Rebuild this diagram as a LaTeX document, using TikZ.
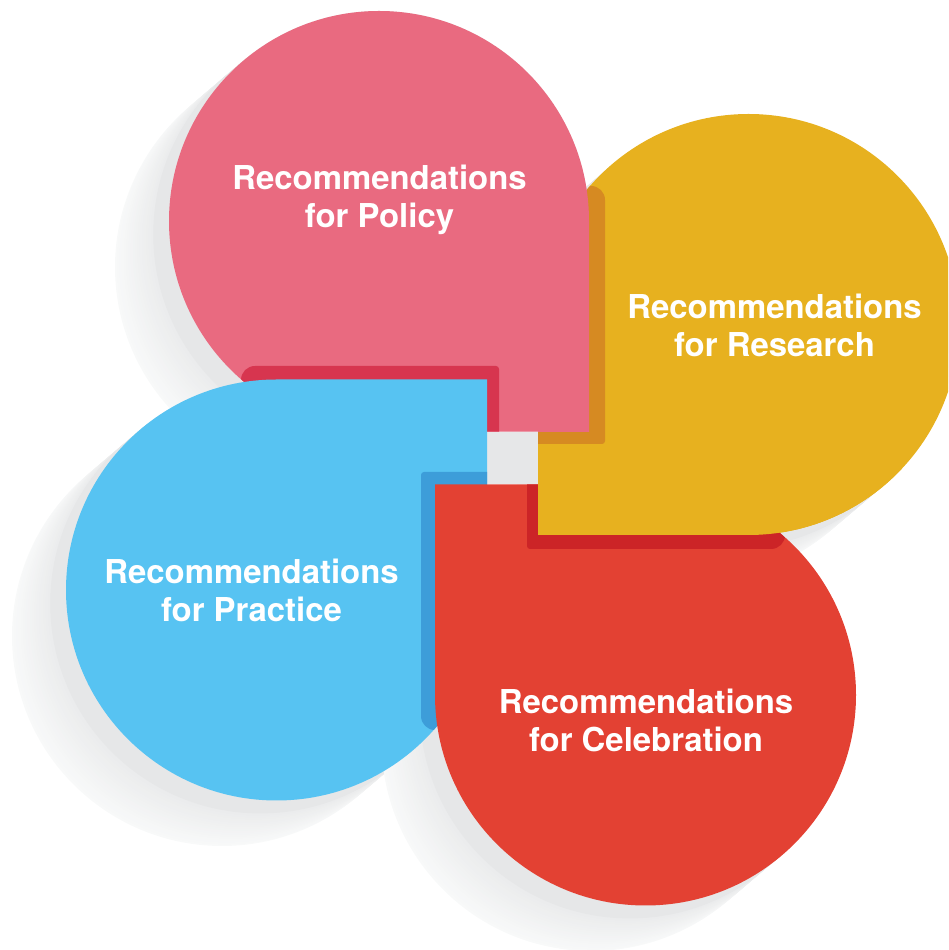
\documentclass[tikz,border=0pt]{standalone}
\usepackage{fontspec}
\setmainfont{TeX Gyre Heros}
\definecolor{pinkc}{HTML}{E96A80}
\definecolor{pinkd}{HTML}{D7354F}
\definecolor{yelc}{HTML}{E7B11F}
\definecolor{yeld}{HTML}{D68A22}
\definecolor{bluec}{HTML}{57C3F2}
\definecolor{blued}{HTML}{3D9DD9}
\definecolor{redc}{HTML}{E34133}
\definecolor{redd}{HTML}{CC2427}
\definecolor{shnear}{HTML}{E6E7E8}
\definecolor{shfar}{HTML}{F8F9F9}
\tikzset{
  lab/.style={text=white,font=\bfseries\fontsize{32.9}{38}\selectfont,align=center,inner sep=0pt},
}
\def\pinkpath{(589,729) arc (0:270:210) -- (589,518) -- cycle}
\def\yelpath{(538,625.5) arc (180:-90:210.5) -- (538,415) -- cycle}
\def\bluepath{(276.5,570.5) arc (90:360:210.5) -- (487,570.5) -- cycle}
\def\redpath{(435,255) arc (180:450:210.5) -- (435,465.5) -- cycle}
\newcommand{\softshadow}[2]{%
  \foreach \k in {0,...,24}{
    \pgfmathsetmacro{\tt}{1-\k/24}
    \pgfmathsetmacro{\mixp}{\tt<0.3 ? 0 : 25+75*(\tt-0.3)/0.7}
    \fill[shfar!\mixp!shnear] ({#1-54*\tt},{#2-46*\tt}) circle[radius=210];
  }}
\begin{document}
\begin{tikzpicture}[x=1pt,y=1pt]
\useasboundingbox (0,0) rectangle (948,950);
\begin{scope}
\clip (0,0) rectangle (948,950);
% shadows
\softshadow{379}{729}
\softshadow{748}{625}
\softshadow{276}{360}
\softshadow{645.5}{255}
% centre square
\fill[shnear] (487,466) rectangle (538,518);
% yellow
\fill[yelc] \yelpath;
\begin{scope}
\clip \yelpath;
\fill[yeld] (500,506) [rounded corners=3pt] -- (605,506) [rounded corners=14pt] -- (605,764) [sharp corners] -- (500,764) -- cycle;
\end{scope}
% pink
\fill[pinkc] \pinkpath;
\begin{scope}
\clip \pinkpath;
\fill[pinkd] (200,518) -- (499,518) [rounded corners=3pt] -- (499,584) [rounded corners=14pt] -- (241,584) [sharp corners] -- (241,500) -- cycle;
\end{scope}
% blue
\fill[bluec] \bluepath;
\begin{scope}
\clip \bluepath;
\fill[blued] (490,478) [rounded corners=3pt] -- (421,478) [rounded corners=14pt] -- (421,220) [sharp corners] -- (490,220) -- cycle;
\end{scope}
% red
\fill[redc] \redpath;
\begin{scope}
\clip \redpath;
\fill[redd] (527,480) [rounded corners=3pt] -- (527,401) [rounded corners=14pt] -- (785,401) [sharp corners] -- (785,480) -- cycle;
\end{scope}
% yellow again, over the red shape
\begin{scope}
\clip (500,380) rectangle (948,480);
\fill[yelc] \yelpath;
\end{scope}
\end{scope}
\node[lab] (policy) at (379.5,750) {Recommendations\\for Policy};
\node[lab] (research) at (774.5,625) {Recommendations\\for Research};
\node[lab] (practice) at (251.5,360) {Recommendations\\for Practice};
\node[lab] (celebration) at (646,230) {Recommendations\\for Celebration};
\end{tikzpicture}
\end{document}
